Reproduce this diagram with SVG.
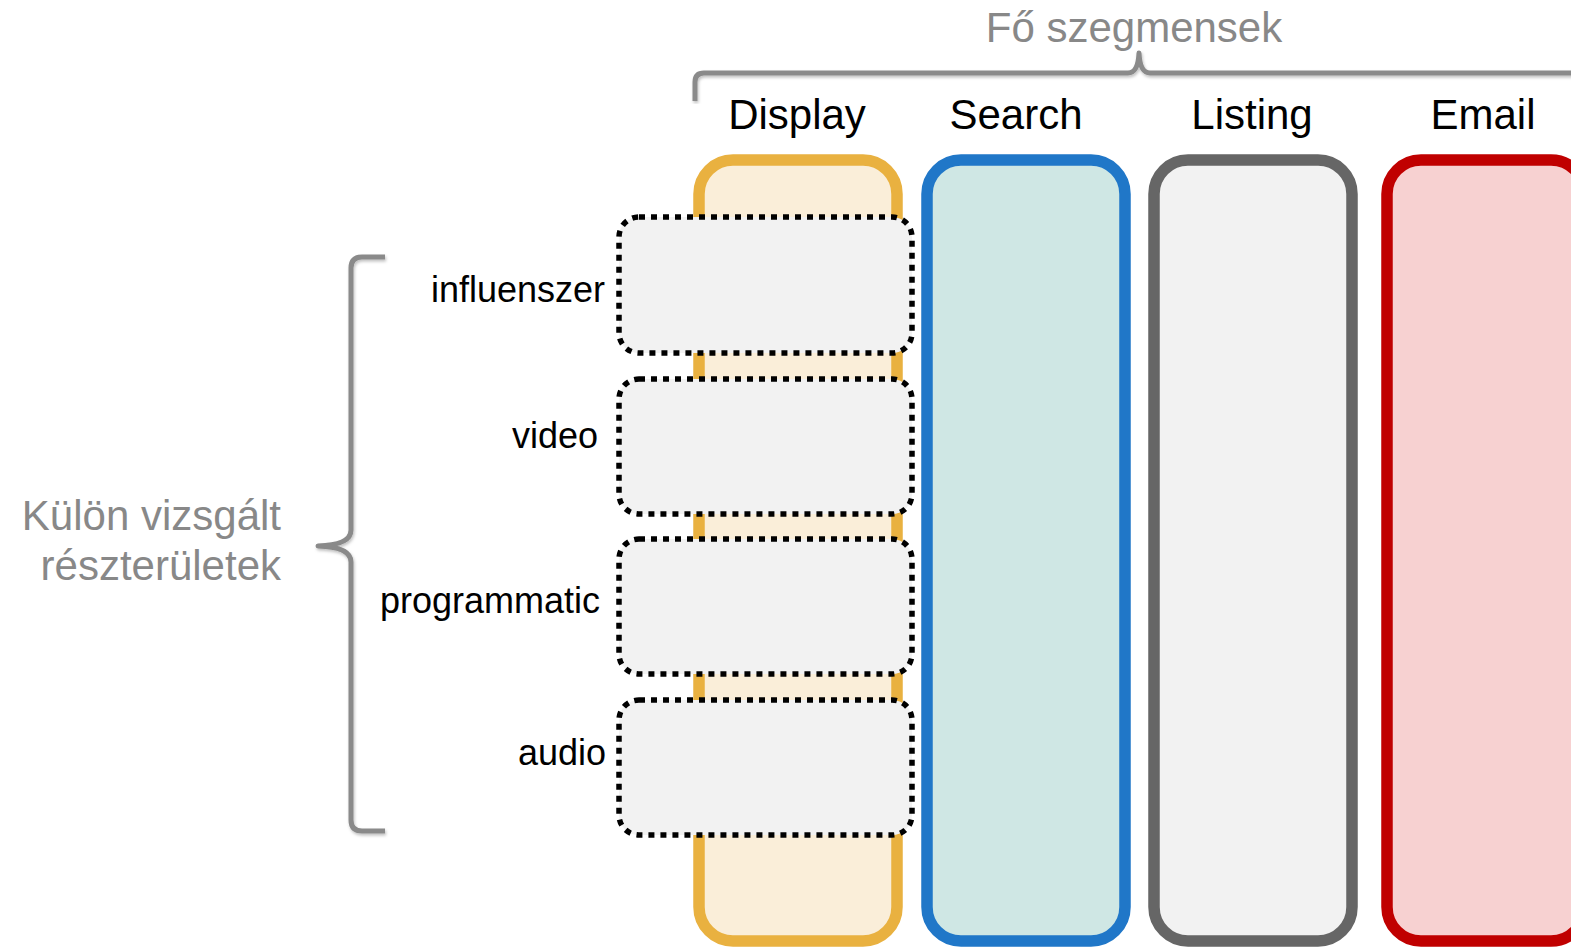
<svg xmlns="http://www.w3.org/2000/svg" width="1571" height="947" viewBox="0 0 1571 947">
<style>
.hdr{font-family:"Liberation Sans",Arial,sans-serif;font-size:42px;fill:#000;text-anchor:middle}
.gray{font-family:"Liberation Sans",Arial,sans-serif;font-size:42px;fill:#888888}
.lbl{font-family:"Liberation Sans",Arial,sans-serif;font-size:36px;fill:#000;text-anchor:end}
.col{stroke-width:11.5}
.sub{fill:#f2f2f2;stroke:#000;stroke-width:5.5;stroke-dasharray:6 6}
.brace{fill:none;stroke:#8a8a8a;stroke-width:5;stroke-linecap:butt;stroke-linejoin:round;filter:url(#sh)}
</style>
<defs>
<filter id="sh" x="-5%" y="-5%" width="110%" height="110%">
<feDropShadow dx="1" dy="2" stdDeviation="1.5" flood-color="#000" flood-opacity="0.25"/>
</filter>
</defs>
<rect width="1571" height="947" fill="#fff"/>
<g id="title"><text class="gray" x="1134" y="42" text-anchor="middle">Fő szegmensek</text></g>
<g id="connectors">
<path class="brace" d="M695,101 V82 Q695,73 704,73 H1128 Q1138,73 1139,53 Q1140,73 1150,73 H1580"/>
<path class="brace" d="M385,257 H362 Q351,257 351,268 V530 Q351,545 318,546 Q351,547 351,562 V820 Q351,831 362,831 H385"/>
</g>
<g id="side-label">
<text class="gray" x="281" y="530" text-anchor="end">Külön vizsgált</text>
<text class="gray" x="281" y="580" text-anchor="end">részterületek</text>
</g>
<g id="display">
<rect class="col" x="699" y="160" width="198" height="781" rx="34" fill="#faeed9" stroke="#e9b140"/>
<text class="hdr" x="797" y="129">Display</text>
</g>
<g id="search">
<rect class="col" x="927" y="160" width="198" height="781" rx="34" fill="#cfe7e4" stroke="#2077c8"/>
<text class="hdr" x="1016" y="129">Search</text>
</g>
<g id="listing">
<rect class="col" x="1154" y="160" width="198" height="781" rx="34" fill="#f2f2f2" stroke="#666666"/>
<text class="hdr" x="1252" y="129">Listing</text>
</g>
<g id="email">
<rect class="col" x="1387" y="160" width="198" height="781" rx="34" fill="#f7d1d1" stroke="#c00000"/>
<text class="hdr" x="1483" y="129">Email</text>
</g>
<g id="influenszer">
<rect class="sub" x="619" y="217" width="293" height="136" rx="20"/>
<text class="lbl" x="605" y="302">influenszer</text>
</g>
<g id="video">
<rect class="sub" x="619" y="379" width="293" height="135" rx="20"/>
<text class="lbl" x="598" y="448">video</text>
</g>
<g id="programmatic">
<rect class="sub" x="619" y="539" width="293" height="135" rx="20"/>
<text class="lbl" x="600" y="613">programmatic</text>
</g>
<g id="audio">
<rect class="sub" x="619" y="700" width="293" height="135" rx="20"/>
<text class="lbl" x="606" y="765">audio</text>
</g>
</svg>
